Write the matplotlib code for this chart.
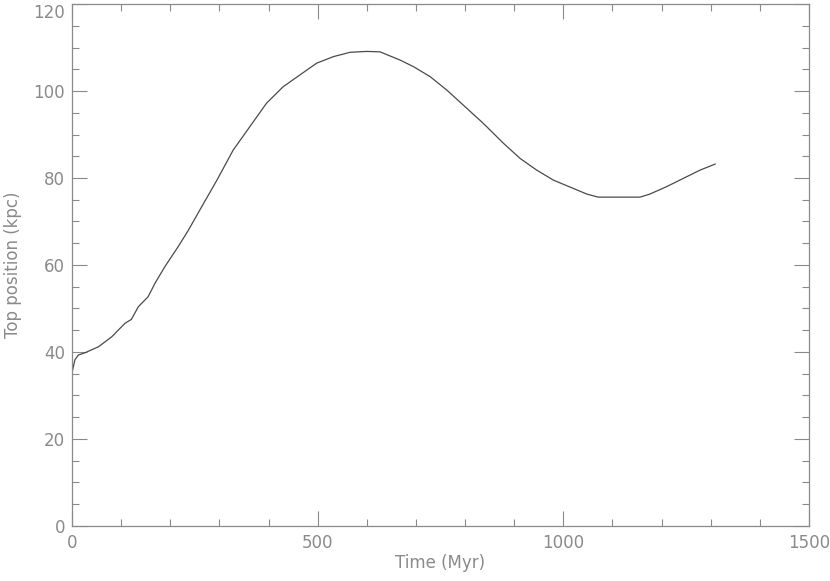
import matplotlib
matplotlib.use("Agg")
import matplotlib.pyplot as plt
from matplotlib.ticker import MultipleLocator

# values
time_myr = [0, 6, 13, 26, 54, 81, 108, 121, 135, 155, 169, 189, 216, 237,
            260, 295, 328, 362, 396, 430, 464, 498, 532, 566, 600, 627,
            668, 695, 729, 763, 796, 830, 844, 878, 912, 946, 980, 1014,
            1048, 1071, 1110, 1156, 1176, 1210, 1244, 1278, 1309]
top_kpc = [35.2, 38.2, 39.3, 39.8, 41.2, 43.5, 46.6, 47.5, 50.4, 52.7, 55.8,
           59.6, 64.2, 68.0, 72.6, 79.5, 86.4, 91.8, 97.2, 101.0, 103.7,
           106.4, 107.9, 108.9, 109.1, 109.0, 107.1, 105.6, 103.3, 100.2,
           96.8, 93.3, 91.8, 88.0, 84.5, 81.8, 79.5, 77.9, 76.3, 75.6, 75.6,
           75.6, 76.3, 78.0, 79.9, 81.8, 83.2]

grey = "#8a8a8a"
plt.rcParams["font.family"] = "DejaVu Sans"

fig = plt.figure(figsize=(8.3, 5.81), dpi=100)
ax = fig.add_axes([0.0867, 0.0947, 0.8880, 0.8984])

ax.plot(time_myr, top_kpc, color="#4a4a4a", linewidth=0.9)

ax.set_xlim(0, 1500)
ax.set_ylim(0, 120)
ax.xaxis.set_major_locator(MultipleLocator(500))
ax.xaxis.set_minor_locator(MultipleLocator(100))
ax.yaxis.set_major_locator(MultipleLocator(20))
ax.yaxis.set_minor_locator(MultipleLocator(5))

for side in ax.spines.values():
    side.set_color(grey)
    side.set_linewidth(0.9)

ax.tick_params(which="both", direction="in", top=True, right=True,
               color=grey, width=0.8, labelcolor=grey, labelsize=12)
ax.tick_params(which="major", length=10.5)
ax.tick_params(which="minor", length=5)
ax.tick_params(axis="x", which="major", pad=6)
ax.tick_params(axis="y", which="major", pad=5)

ax.set_xlabel("Time (Myr)", color=grey, fontsize=12, labelpad=1)
ax.set_ylabel("Top position (kpc)", color=grey, fontsize=12, labelpad=8)

# the top label sits just below the frame edge, as in the reference
fig.canvas.draw()
for lab in ax.get_yticklabels():
    if lab.get_text() == "120":
        lab.set_verticalalignment("top")

fig.savefig("out.png", dpi=100, facecolor="white")
